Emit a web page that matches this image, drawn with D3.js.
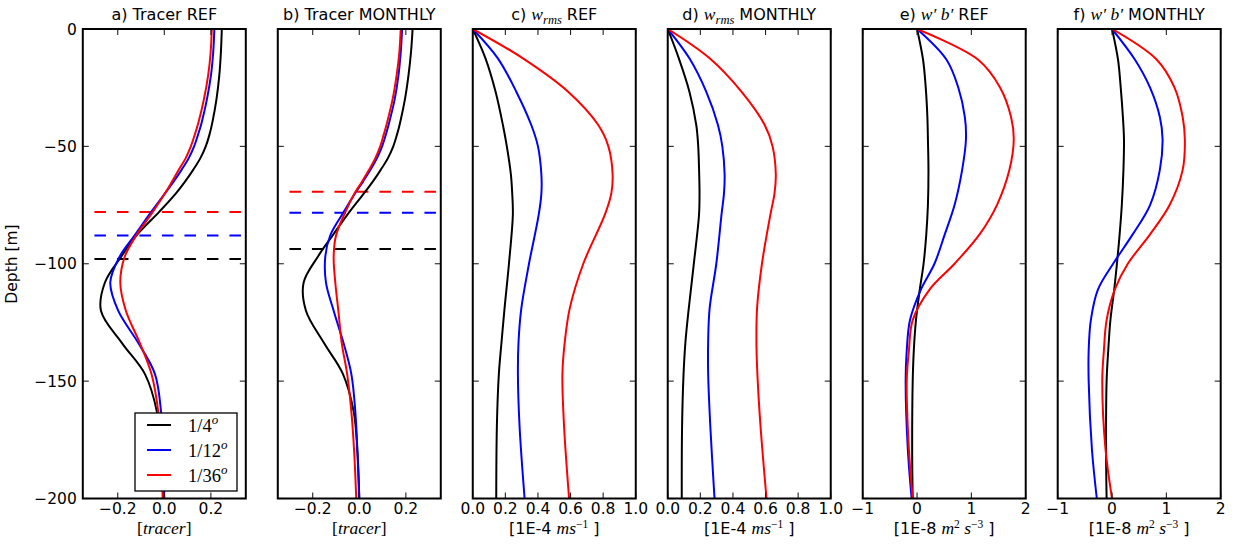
<!DOCTYPE html>
<html><head><meta charset="utf-8">
<script src="https://cdn.jsdelivr.net/npm/d3@7"></script>
<style>
body{margin:0;background:#fff}
svg text{font-family:"DejaVu Sans",sans-serif;fill:#000}
.m{font-family:"Liberation Serif",serif;font-style:italic}
.mr{font-family:"Liberation Serif",serif;font-style:normal}
</style>
</head><body>
<svg id="chart" width="1237" height="552"></svg>
<script>
// ---------------- data ----------------
const depthTicks = [0, -50, -100, -150, -200];
const tracerTicks = [-0.2, 0.0, 0.2];
const wrmsTicks = [0.0, 0.2, 0.4, 0.6, 0.8, 1.0];
const wbTicks = [-1, 0, 1, 2];
const resolutions = ["1/4", "1/12", "1/36"];
const seriesColors = ["#000000", "#0000ff", "#ff0000"];

// tracer profiles (depth in m, positive down)
const tracerDepth = [0, 10, 20, 30, 40, 45, 50, 55, 60, 65, 70, 78, 88, 97, 108, 120, 134, 147, 163, 180, 200];
const tracerRef4  = [0.247, 0.243, 0.236, 0.224, 0.206, 0.194, 0.178, 0.155, 0.124, 0.089, 0.050, -0.023, -0.120, -0.185, -0.255, -0.272, -0.180, -0.083, -0.032, -0.015, -0.003];
const tracerRef12 = [0.215, 0.210, 0.200, 0.183, 0.160, 0.145, 0.128, 0.105, 0.074, 0.040, 0.003, -0.057, -0.128, -0.192, -0.232, -0.198, -0.110, -0.040, -0.014, -0.005, 0.000];
const tracerRef36 = [0.204, 0.199, 0.188, 0.170, 0.146, 0.131, 0.114, 0.092, 0.062, 0.033, 0.003, -0.050, -0.121, -0.170, -0.189, -0.165, -0.104, -0.055, -0.026, -0.014, -0.007];
const tracerMon4  = [0.229, 0.222, 0.211, 0.196, 0.175, 0.162, 0.146, 0.123, 0.092, 0.058, 0.020, -0.043, -0.115, -0.178, -0.239, -0.229, -0.150, -0.070, -0.024, -0.008, 0.000];
const tracerMon12 = [0.184, 0.178, 0.168, 0.152, 0.128, 0.114, 0.098, 0.076, 0.048, 0.016, -0.018, -0.067, -0.125, -0.146, -0.143, -0.110, -0.067, -0.034, -0.017, -0.008, 0.000];
const tracerMon36 = [0.178, 0.172, 0.160, 0.143, 0.119, 0.105, 0.090, 0.069, 0.042, 0.012, -0.020, -0.060, -0.100, -0.110, -0.103, -0.090, -0.075, -0.052, -0.034, -0.022, -0.013];
// mixed layer depths (dashed lines), order 1/4, 1/12, 1/36
const mldRef = [98, 88, 78];
const mldMon = [93.7, 78.3, 69.3];

// w_rms profiles
const wrmsDepth = [0, 12.5, 26.7, 40.9, 50, 62, 70, 79, 100, 119, 133, 147, 169, 200];
const wrmsRef4  = [0, 0.078, 0.140, 0.185, 0.209, 0.234, 0.242, 0.246, 0.222, 0.195, 0.177, 0.160, 0.148, 0.144];
const wrmsRef12 = [0, 0.154, 0.267, 0.359, 0.400, 0.421, 0.421, 0.405, 0.345, 0.298, 0.281, 0.277, 0.287, 0.318];
const wrmsRef36 = [0, 0.308, 0.585, 0.770, 0.832, 0.858, 0.850, 0.811, 0.678, 0.595, 0.565, 0.550, 0.560, 0.591];
const wrmsMon4  = [0, 0.068, 0.133, 0.175, 0.187, 0.193, 0.195, 0.192, 0.160, 0.129, 0.109, 0.097, 0.088, 0.086];
const wrmsMon12 = [0, 0.133, 0.236, 0.308, 0.335, 0.349, 0.345, 0.330, 0.298, 0.257, 0.248, 0.248, 0.261, 0.287];
const wrmsMon36 = [0, 0.257, 0.452, 0.595, 0.643, 0.663, 0.655, 0.630, 0.578, 0.548, 0.544, 0.550, 0.569, 0.606];

// w'b' profiles
const wbDepth = [0, 13, 25, 37.5, 47, 60, 75, 87.5, 100, 111, 124, 137, 150, 179, 200];
const wbRef4  = [0, 0.11, 0.16, 0.19, 0.20, 0.21, 0.20, 0.17, 0.12, 0.05, -0.02, -0.06, -0.08, -0.09, -0.08];
const wbRef12 = [0, 0.54, 0.76, 0.88, 0.90, 0.83, 0.69, 0.51, 0.32, 0.07, -0.13, -0.19, -0.21, -0.17, -0.10];
const wbRef36 = [0, 1.12, 1.53, 1.73, 1.78, 1.70, 1.47, 1.15, 0.69, 0.23, -0.08, -0.15, -0.19, -0.15, -0.08];
const wbMon4  = [0, 0.11, 0.16, 0.20, 0.22, 0.21, 0.18, 0.14, 0.09, 0.04, -0.03, -0.07, -0.10, -0.11, -0.10];
const wbMon12 = [0, 0.42, 0.70, 0.88, 0.93, 0.88, 0.70, 0.38, 0.02, -0.26, -0.39, -0.43, -0.43, -0.37, -0.28];
const wbMon36 = [0, 0.82, 1.15, 1.30, 1.34, 1.30, 1.06, 0.70, 0.29, 0.05, -0.10, -0.15, -0.18, -0.12, 0.00];

// ---------------- layout ----------------
const svg = d3.select("#chart");
const plotTop = 29, plotBottom = 498.5, pw = 163;
const lefts = d3.range(6).map(i => 82.8 + i * 194.98);
const y = d3.scaleLinear().domain([0, -200]).range([plotTop, plotBottom]);

const tracerDom = [-0.35, 0.35], wrmsDom = [0, 1], wbDom = [-1, 2];
const fmt1 = v => (v < 0 ? "\u2212" : "") + Math.abs(v).toFixed(1);
const fmt0 = v => (v < 0 ? "\u2212" : "") + Math.abs(v).toFixed(0);

const panels = [
  {title:"a) Tracer REF", dom:tracerDom, ticks:tracerTicks, fmt:fmt1, depth:tracerDepth, vals:[tracerRef4,tracerRef12,tracerRef36], mld:mldRef, xl:"tracer", legend:true},
  {title:"b) Tracer MONTHLY", dom:tracerDom, ticks:tracerTicks, fmt:fmt1, depth:tracerDepth, vals:[tracerMon4,tracerMon12,tracerMon36], mld:mldMon, xl:"tracer"},
  {title:"c", tag:" REF", dom:wrmsDom, ticks:wrmsTicks, fmt:fmt1, depth:wrmsDepth, vals:[wrmsRef4,wrmsRef12,wrmsRef36], xl:"w"},
  {title:"d", tag:" MONTHLY", dom:wrmsDom, ticks:wrmsTicks, fmt:fmt1, depth:wrmsDepth, vals:[wrmsMon4,wrmsMon12,wrmsMon36], xl:"w"},
  {title:"e", tag:" REF", dom:wbDom, ticks:wbTicks, fmt:fmt0, depth:wbDepth, vals:[wbRef4,wbRef12,wbRef36], xl:"wb"},
  {title:"f", tag:" MONTHLY", dom:wbDom, ticks:wbTicks, fmt:fmt0, depth:wbDepth, vals:[wbMon4,wbMon12,wbMon36], xl:"wb"}
];

const defs = svg.append("defs");

panels.forEach((p, i) => {
  const L = lefts[i], R = L + pw;
  const x = d3.scaleLinear().domain(p.dom).range([L, R]);
  const g = svg.append("g");
  defs.append("clipPath").attr("id", "clip" + i).append("rect")
    .attr("x", L).attr("y", plotTop).attr("width", pw).attr("height", plotBottom - plotTop);
  const plot = g.append("g").attr("clip-path", `url(#clip${i})`);

  if (p.mld) {
    p.mld.forEach((d, k) => {
      plot.append("line")
        .attr("x1", x(-0.3)).attr("x2", x(0.36))
        .attr("y1", y(-d)).attr("y2", y(-d))
        .attr("stroke", seriesColors[k]).attr("stroke-width", 2)
        .attr("stroke-dasharray", "11.5,11");
    });
  }
  const line = d3.line().x(d => x(d[0])).y(d => y(-d[1])).curve(d3.curveCatmullRom.alpha(0.5));
  p.vals.forEach((vals, k) => {
    const pts = vals.map((v, j) => [v, p.depth[j]]);
    plot.append("path").attr("d", line(pts)).attr("fill", "none")
      .attr("stroke", seriesColors[k]).attr("stroke-width", 2).attr("stroke-linejoin", "round");
  });

  const tk = g.append("g").attr("stroke", "#222").attr("stroke-width", 1.1);
  depthTicks.forEach(t => {
    tk.append("line").attr("x1", L).attr("x2", L + 6).attr("y1", y(t)).attr("y2", y(t));
    tk.append("line").attr("x1", R).attr("x2", R - 6).attr("y1", y(t)).attr("y2", y(t));
  });
  p.ticks.forEach(t => {
    tk.append("line").attr("x1", x(t)).attr("x2", x(t)).attr("y1", plotTop).attr("y2", plotTop + 6);
    tk.append("line").attr("x1", x(t)).attr("x2", x(t)).attr("y1", plotBottom).attr("y2", plotBottom - 6);
  });
  g.append("rect").attr("x", L).attr("y", plotTop).attr("width", pw).attr("height", plotBottom - plotTop)
    .attr("fill", "none").attr("stroke", "#000").attr("stroke-width", 2);

  p.ticks.forEach(t => {
    g.append("text").attr("x", x(t)).attr("y", 513.5).attr("text-anchor", "middle")
      .attr("font-size", 15.5).text(p.fmt(t));
  });
  if (i === 0) {
    depthTicks.forEach(t => {
      g.append("text").attr("x", L - 6).attr("y", y(t) + 5.5).attr("text-anchor", "end")
        .attr("font-size", 15.5).text(fmt0(t));
    });
  }

  const cx = L + pw / 2;
  const tt = g.append("text").attr("x", cx).attr("y", 20).attr("text-anchor", "middle").attr("font-size", 16);
  if (!p.tag) {
    tt.text(p.title);
  } else if (p.xl === "w") {
    tt.append("tspan").text(p.title + ") ");
    tt.append("tspan").attr("class", "m").attr("font-size", 17.5).text("w");
    tt.append("tspan").attr("class", "m").attr("font-size", 12.5).attr("dy", 3.5).text("rms");
    tt.append("tspan").attr("dy", -3.5).text(p.tag);
  } else {
    tt.append("tspan").text(p.title + ") ");
    tt.append("tspan").attr("class", "m").attr("font-size", 17.5).text("w\u2032 b\u2032");
    tt.append("tspan").text(p.tag);
  }

  const xt = g.append("text").attr("x", cx).attr("y", 534).attr("text-anchor", "middle").attr("font-size", 16);
  if (p.xl === "tracer") {
    xt.append("tspan").attr("class", "mr").attr("font-size", 17.5).text("[");
    xt.append("tspan").attr("class", "m").attr("font-size", 17.5).text("tracer");
    xt.append("tspan").attr("class", "mr").attr("font-size", 17.5).text("]");
  } else if (p.xl === "w") {
    xt.append("tspan").text("[1E-4 ");
    xt.append("tspan").attr("class", "m").attr("font-size", 17.5).text("ms");
    xt.append("tspan").attr("class", "mr").attr("font-size", 11.5).attr("dy", -6).text("\u22121");
    xt.append("tspan").attr("dy", 6).text(" ]");
  } else {
    xt.append("tspan").text("[1E-8 ");
    xt.append("tspan").attr("class", "m").attr("font-size", 17.5).text("m");
    xt.append("tspan").attr("class", "mr").attr("font-size", 11.5).attr("dy", -6).text("2");
    xt.append("tspan").attr("class", "m").attr("font-size", 17.5).attr("dy", 6).text(" s");
    xt.append("tspan").attr("class", "mr").attr("font-size", 11.5).attr("dy", -6).text("\u22123");
    xt.append("tspan").attr("dy", 6).text(" ]");
  }

  if (p.legend) {
    const lg = g.append("g");
    lg.append("rect").attr("x", 135).attr("y", 413).attr("width", 102).attr("height", 78)
      .attr("fill", "#fff").attr("stroke", "#000").attr("stroke-width", 1.3);
    resolutions.forEach((r, k) => {
      const yy = 425 + k * 25;
      lg.append("line").attr("x1", 147).attr("x2", 171).attr("y1", yy).attr("y2", yy)
        .attr("stroke", seriesColors[k]).attr("stroke-width", 2);
      const t = lg.append("text").attr("x", 188).attr("y", yy + 7).attr("font-size", 18.5);
      t.append("tspan").attr("class", "mr").text(r);
      t.append("tspan").attr("class", "m").attr("font-size", 13).attr("dy", -8).text("o");
    });
  }
});

svg.append("text").attr("transform", "translate(17,264) rotate(-90)")
  .attr("text-anchor", "middle").attr("font-size", 15.5).text("Depth [m]");
</script>
</body></html>
